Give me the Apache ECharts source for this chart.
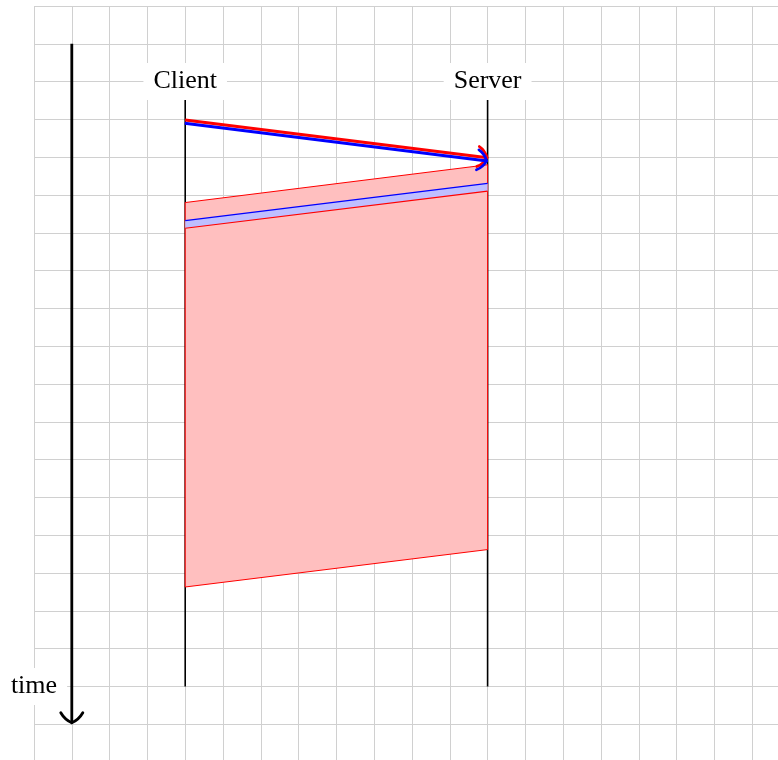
<!DOCTYPE html>
<html><head><meta charset="utf-8">
<script src="https://cdn.jsdelivr.net/npm/echarts@6/dist/echarts.min.js"></script>
<style>html,body{margin:0;padding:0;background:#fff}#c{width:778px;height:760px}</style>
</head><body><div id="c"></div>
<script>
// ---- data (grid units, y grows downward = time) ----
const lifelineNames = ['Client', 'Server'];
const lifelineX = [4, 12];
const lifelineRange = [2, 18];
const timeAxisX = 1;
const timeAxisRange = [1, 19];
const timeLabel = 'time';
const timeLabelAt = [0, 18];
// messages: [fromX, fromY, toX, toY]
const messageRed = [4, 3, 12, 4];
const messageBlue = [4, 3, 12, 4];
// bands: [clientX, clientTop, clientBottom, serverX, serverTop, serverBottom]
const redBand = [4, 5.2, 15.37, 12, 4.2, 14.38];
const blueBand = [4, 5.68, 5.88, 12, 4.69, 4.9];
// visible extent of the grid (in units)
const xExtent = [0, 744 / 37.8];
const yExtent = [0, 754 / 37.8];

const FONT = '26px "Liberation Serif", "DejaVu Serif", serif';

function arrowHead(tip, dir, color, width, back, half) {
  const n = [-dir[1], dir[0]];
  const curve = (s) => ({
    type: 'bezierCurve',
    shape: {
      x1: tip[0] - back * dir[0] + s * half * n[0],
      y1: tip[1] - back * dir[1] + s * half * n[1],
      cpx1: tip[0] - 3 * dir[0] + s * 7 * n[0],
      cpy1: tip[1] - 3 * dir[1] + s * 7 * n[1],
      x2: tip[0], y2: tip[1]
    },
    style: { stroke: color, fill: null, lineWidth: width, lineCap: 'round' }
  });
  return [curve(1), curve(-1)];
}

function lineSeg(a, b, color, width) {
  return { type: 'line', shape: { x1: a[0], y1: a[1], x2: b[0], y2: b[1] },
    style: { stroke: color, lineWidth: width } };
}

const chart = echarts.init(document.getElementById('c'));
chart.setOption({
  animation: false,
  backgroundColor: '#fff',
  grid: { left: 34, top: 6, right: 0, bottom: 0 },
  xAxis: { type: 'value', min: xExtent[0], max: xExtent[1], interval: 1,
    axisLine: { show: false }, axisTick: { show: false }, axisLabel: { show: false },
    splitLine: { show: true, showMaxLine: false, lineStyle: { color: '#d0d0d0', width: 1 } } },
  yAxis: { type: 'value', min: yExtent[0], max: yExtent[1], interval: 1, inverse: true,
    axisLine: { show: false }, axisTick: { show: false }, axisLabel: { show: false },
    splitLine: { show: true, showMaxLine: false, lineStyle: { color: '#d0d0d0', width: 1 } } },
  series: [
    { // time axis
      type: 'custom', z: 2, clip: false,
      data: [[timeAxisX, timeAxisRange[0], timeAxisX, timeAxisRange[1]]],
      renderItem: (p, api) => {
        const a = api.coord([api.value(0), api.value(1)]);
        const b = api.coord([api.value(2), api.value(3)]);
        const L = Math.hypot(b[0] - a[0], b[1] - a[1]);
        const d = [(b[0] - a[0]) / L, (b[1] - a[1]) / L];
        const tip = [b[0], b[1] - 1.5];
        return { type: 'group', children: [
          lineSeg(a, [tip[0], tip[1] - 1], '#000', 2.8),
          ...arrowHead(tip, d, '#000', 2.8, 10, 11)
        ] };
      }
    },
    { // lifelines
      type: 'custom', z: 2, clip: false,
      data: lifelineX.map(x => [x, lifelineRange[0], x, lifelineRange[1]]),
      renderItem: (p, api) => lineSeg(
        api.coord([api.value(0), api.value(1)]),
        api.coord([api.value(2), api.value(3)]), '#000', 1.6)
    },
    { // bands
      type: 'custom', z: 3, clip: false,
      data: [redBand, blueBand],
      renderItem: (p, api) => {
        const v = i => api.value(i);
        const ct = api.coord([v(0), v(1)]), cb = api.coord([v(0), v(2)]);
        const st = api.coord([v(3), v(4)]), sb = api.coord([v(3), v(5)]);
        if (p.dataIndex === 0) {
          return { type: 'polygon', shape: { points: [ct, st, sb, cb] },
            style: { fill: '#ffbfbf', stroke: '#ff0000', lineWidth: 1 } };
        }
        return { type: 'group', children: [
          { type: 'polygon', shape: { points: [ct, st, sb, cb] }, style: { fill: '#bfbfff' } },
          lineSeg(ct, st, '#0000ff', 1.2),
          lineSeg(cb, sb, '#ff0000', 1.2)
        ] };
      }
    },
    { // messages
      type: 'custom', z: 4, clip: false,
      data: [messageRed, messageBlue],
      renderItem: (p, api) => {
        const a = api.coord([api.value(0), api.value(1)]);
        const b = api.coord([api.value(2), api.value(3)]);
        const L = Math.hypot(b[0] - a[0], b[1] - a[1]);
        const d = [(b[0] - a[0]) / L, (b[1] - a[1]) / L];
        const n = [-d[1], d[0]];
        const off = p.dataIndex === 0 ? 0.5 : 3.8;
        const color = p.dataIndex === 0 ? '#ff0000' : '#0000ff';
        const A = [a[0] + off * n[0], a[1] + off * n[1]];
        const B = [b[0] + off * n[0], b[1] + off * n[1]];
        const tip = [B[0] - 0.5 * d[0], B[1] - 0.5 * d[1]];
        return { type: 'group', children: [
          lineSeg(A, [tip[0] - 1.5 * d[0], tip[1] - 1.5 * d[1]], color, 3),
          ...arrowHead(tip, d, color, 2.8, 9, 10)
        ] };
      }
    },
    { // labels
      type: 'custom', z: 5, clip: false,
      data: lifelineX.map((x, i) => [x, lifelineRange[0], lifelineNames[i]])
        .concat([[timeLabelAt[0], timeLabelAt[1], timeLabel]]),
      renderItem: (p, api) => {
        const c = api.coord([api.value(0), api.value(1)]);
        return { type: 'text', x: c[0], y: c[1],
          style: { text: api.value(2), font: FONT, fill: '#000',
            align: 'center', verticalAlign: 'middle',
            backgroundColor: '#fff', padding: [5, 10, 5, 10], lineHeight: 27 } };
      }
    }
  ]
});
</script></body></html>
